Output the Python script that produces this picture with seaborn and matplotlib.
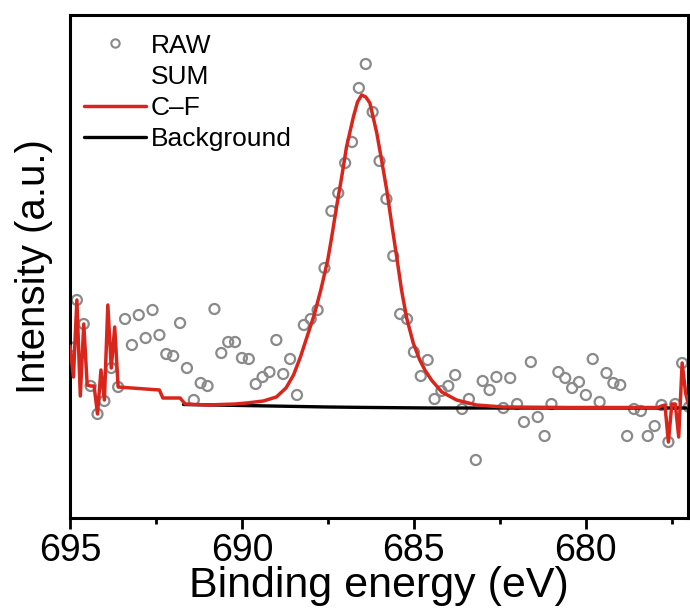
import numpy as np
import pandas as pd
import matplotlib
matplotlib.use("Agg")
import matplotlib.pyplot as plt
import seaborn as sns
from matplotlib.lines import Line2D
from matplotlib.ticker import FixedLocator, MultipleLocator

# ---------------- data ----------------
raw_energy = [695.0, 694.8, 694.6, 694.4, 694.2, 694.0, 693.8, 693.6, 693.4, 693.2,
              693.0, 692.8, 692.6, 692.4, 692.2, 692.0, 691.8, 691.6, 691.4, 691.2,
              691.0, 690.8, 690.6, 690.4, 690.2, 690.0, 689.8, 689.6, 689.4, 689.2,
              689.0, 688.8, 688.6, 688.4, 688.2, 688.0, 687.8, 687.6, 687.4, 687.2,
              687.0, 686.8, 686.6, 686.4, 686.2, 686.0, 685.8, 685.6, 685.4, 685.2,
              685.0, 684.8, 684.6, 684.4, 684.2, 684.0, 683.8, 683.6, 683.4, 683.2,
              683.0, 682.8, 682.6, 682.4, 682.2, 682.0, 681.8, 681.6, 681.4, 681.2,
              681.0, 680.8, 680.6, 680.4, 680.2, 680.0, 679.8, 679.6, 679.4, 679.2,
              679.0, 678.8, 678.6, 678.4, 678.2, 678.0, 677.8, 677.6, 677.4, 677.2,
              677.0]
raw_intensity = [171, 218, 194, 132, 104, 117, 150, 131, 199, 173,
                 203, 180, 208, 183, 164, 162, 195, 150, 118, 135,
                 132, 209, 165, 176, 176, 160, 159, 134, 141, 146,
                 178, 144, 159, 123, 193, 199, 208, 250, 307, 325,
                 355, 376, 430, 454, 406, 357, 319, 262, 204, 199,
                 166, 142, 158, 119, 127, 132, 143, 109, 119, 58,
                 137, 128, 141, 110, 140, 114, 96, 156, 101, 82,
                 114, 146, 140, 130, 136, 123, 159, 116, 145, 135,
                 133, 82, 109, 107, 82, 92, 113, 76, 114, 155,
                 111]

cf_energy = [695.0, 694.9, 694.8, 694.7, 694.6, 694.5, 694.4, 694.3, 694.2, 694.1,
             694.0, 693.9, 693.8, 693.7, 693.6, 692.4, 692.3, 691.8, 691.65, 691.0,
             690.2, 689.86, 689.38, 689.0, 688.72, 688.5, 688.3, 688.1, 687.9, 687.7,
             687.5, 687.39, 687.25, 687.1, 686.96, 686.76, 686.64, 686.52, 686.4, 686.28,
             686.08, 685.94, 685.79, 685.65, 685.5, 685.36, 685.21, 685.02, 684.83, 684.68,
             684.49, 684.19, 683.76, 683.18, 682.4, 680.47, 677.9, 677.8, 677.7, 677.6,
             677.5, 677.4, 677.3, 677.2, 677.1, 677.0]
cf_intensity = [172, 141, 218, 122, 194, 133, 132, 132, 104, 148,
                118, 213, 150, 191, 131, 128, 120, 120, 114, 113,
                114, 115, 117, 121, 130, 143, 161, 182, 203, 229,
                259, 281, 311, 341, 371, 401, 416, 423, 421, 415,
                385, 358, 328, 295, 261, 228, 200, 175, 158, 148,
                138, 126, 118, 113, 111, 110.5, 110.5, 112, 113, 76,
                114, 114, 81, 155, 125, 111]

bg_energy = [691.7, 690.5, 689.5, 688.5, 687.5, 686.5, 685.5, 684.5, 677.0]
bg_intensity = [113.5, 112.8, 112.2, 111.6, 111.0, 110.6, 110.3, 110.0, 110.0]

x_ticks = [695, 690, 685, 680]
legend_labels = ["RAW", "SUM", "C\u2013F", "Background"]

# ---------------- style ----------------
sns.set_style("ticks")
plt.rcParams["font.family"] = ["Liberation Sans", "DejaVu Sans"]
plt.rcParams["text.color"] = "black"
plt.rcParams["axes.labelcolor"] = "black"
plt.rcParams["xtick.color"] = "black"
plt.rcParams["ytick.color"] = "black"

RAW_C = "#8a8a8a"
RED = "#d8261d"

fig = plt.figure(figsize=(6.9, 6.15), dpi=100)
ax = fig.add_axes([70 / 690, 1 - 518 / 615, 618 / 690, 503 / 615])

raw_df = pd.DataFrame({"E": raw_energy, "I": raw_intensity})
cf_df = pd.DataFrame({"E": cf_energy, "I": cf_intensity})
bg_df = pd.DataFrame({"E": bg_energy, "I": bg_intensity})

sns.scatterplot(data=raw_df, x="E", y="I", ax=ax, marker="o", s=52,
                color=RAW_C, linewidth=1.6, zorder=2, legend=False)
pts = ax.collections[-1]
pts.set_facecolor("none")
pts.set_edgecolor(RAW_C)

sns.lineplot(data=bg_df, x="E", y="I", ax=ax, color="black", linewidth=2.4,
             sort=False, estimator=None, zorder=3, legend=False)
sns.lineplot(data=cf_df, x="E", y="I", ax=ax, color=RED, linewidth=2.5,
             sort=False, estimator=None, zorder=4, legend=False)

ax.set_xlim(695.0, 677.03)
ax.set_ylim(0, 503)

ax.xaxis.set_major_locator(FixedLocator(x_ticks))
ax.xaxis.set_minor_locator(MultipleLocator(2.5))
ax.set_xticklabels([str(t) for t in x_ticks])
ax.set_yticks([])
ax.tick_params(axis="x", which="major", direction="out", length=8, width=2,
               labelsize=27, pad=3, color="black", labelcolor="black")
ax.tick_params(axis="x", which="minor", direction="out", length=4.5, width=2,
               color="black")
for sp in ax.spines.values():
    sp.set_visible(True)
    sp.set_linewidth(2.2)
    sp.set_color("black")

ax.set_xlabel("Binding energy (eV)", fontsize=31, labelpad=-2, color="black")
ax.set_ylabel("Intensity (a.u.)", fontsize=29, labelpad=12, color="black")

handles = [
    Line2D([], [], marker="o", ls="none", mfc="none", mec=RAW_C, ms=6, mew=1.5),
    Line2D([], [], color="none", lw=2.3),
    Line2D([], [], color=RED, lw=2.5),
    Line2D([], [], color="black", lw=2.4),
]
leg = ax.legend(handles, legend_labels, loc="upper left", bbox_to_anchor=(0.022, 0.963),
                frameon=False, fontsize=19, handlelength=2.35, handletextpad=0.2,
                labelspacing=0.27, borderpad=0, borderaxespad=0)
for t in leg.get_texts():
    t.set_color("black")

fig.savefig("out.png", dpi=100)
